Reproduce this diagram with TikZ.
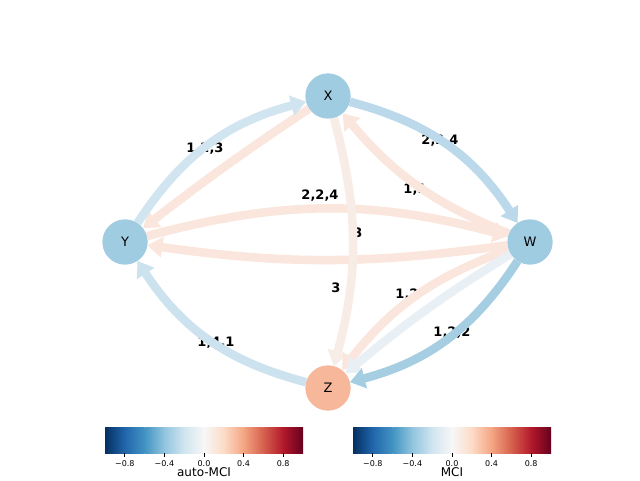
\documentclass[tikz,border=0pt]{standalone}
\usepackage{fontspec}
\setmainfont{DejaVu Sans}
\usetikzlibrary{arrows.meta}
\definecolor{nblue}{RGB}{160,204,226}
\definecolor{norange}{RGB}{246,183,154}
\definecolor{eyx}{RGB}{209,229,240}
\definecolor{exw}{RGB}{187,217,234}
\definecolor{ezy}{RGB}{204,226,239}
\definecolor{ewz}{RGB}{166,206,227}
\definecolor{ewzp}{RGB}{232,240,245}
\definecolor{eor}{RGB}{250,230,220}
\definecolor{eor2}{RGB}{248,236,230}
\definecolor{c0}{RGB}{5,48,97}
\definecolor{c1}{RGB}{33,102,172}
\definecolor{c2}{RGB}{67,147,195}
\definecolor{c3}{RGB}{146,197,222}
\definecolor{c4}{RGB}{209,229,240}
\definecolor{c5}{RGB}{247,247,247}
\definecolor{c6}{RGB}{253,219,199}
\definecolor{c7}{RGB}{244,165,130}
\definecolor{c8}{RGB}{214,96,77}
\definecolor{c9}{RGB}{178,24,43}
\definecolor{c10}{RGB}{103,0,31}
\tikzset{
  vnode/.style={circle,minimum size=45pt,inner sep=0pt,font=\fontsize{13}{15}\selectfont},
  edge/.style={line width=8.5pt,-{Triangle[width=20pt,length=15pt]}},
  elabel/.style={font=\fontsize{13}{15}\selectfont\bfseries,inner sep=0pt},
  ticklab/.style={font=\fontsize{8}{9}\selectfont,anchor=north,inner sep=0pt},
  cbtitle/.style={font=\fontsize{12}{14}\selectfont,anchor=north,inner sep=0pt}
}
\begin{document}
\begin{tikzpicture}[x=1pt,y=1pt]
\useasboundingbox (0,0) rectangle (640,480);
\fill[white] (0,0) rectangle (640,480);
% nodes
\node[vnode,fill=nblue] (X) at (328,384) {X};
\node[vnode,fill=nblue] (Y) at (125,238) {Y};
\node[vnode,fill=nblue] (W) at (530,238) {W};
\node[vnode,fill=norange] (Z) at (328,92) {Z};
% labels (under edges)
\node[elabel] (l1) at (205,331) {1,2,3};
\node[elabel] (l2) at (440,339) {2,2,4};
\node[elabel] (l3) at (320,284) {2,2,4};
\node[elabel] (l4) at (415,290) {1,1};
\node[elabel] (l5) at (358,247) {3};
\node[elabel] (l6) at (336,192) {3};
\node[elabel] (l7) at (407,185) {1,2};
\node[elabel] (l8) at (216,137) {1,4,1};
\node[elabel] (l9) at (452,147) {1,2,2};
% edges
\draw[edge,color=eor] (X) to[bend right=2] (Y);
\draw[edge,color=eor] (Y) to[bend left=15] (W);
\draw[edge,color=eor] (W) to[bend left=8] (Y);
\draw[edge,color=eor] (W) to[bend left=14] (X);
\draw[edge,color=eor2] (X) to[bend left=15] (Z);
\draw[edge,color=eor] (W) to[bend right=16] (Z);
\draw[edge,color=ewzp] (W) to[bend right=4] (Z);
\draw[edge,color=eyx] (Y) to[bend left=21] (X);
\draw[edge,color=exw] (X) to[bend left=21] (W);
\draw[edge,color=ewz] (W) to[bend left=21] (Z);
\draw[edge,color=ezy] (Z) to[bend left=21] (Y);
% nodes on top
\node[vnode,fill=nblue] at (X) {X};
\node[vnode,fill=nblue] at (Y) {Y};
\node[vnode,fill=nblue] at (W) {W};
\node[vnode,fill=norange] at (Z) {Z};
% colorbars
\foreach \x/\t in {105/auto-MCI,353/MCI}{
  \foreach \i [evaluate=\i as \j using int(\i+1)] in {0,...,9}{
    \shade[left color=c\i,right color=c\j,shading=axis] ({\x+\i*19.8},27) rectangle ({\x+\i*19.8+19.9},53);
  }
  \foreach \v/\s in {-0.8/{−0.8},-0.4/{−0.4},0/{0.0},0.4/{0.4},0.8/{0.8}}{
    \draw[line width=0.7pt] ({\x+99+\v*99},27) -- ({\x+99+\v*99},23.5);
    \node[ticklab] at ({\x+99+\v*99},20) {\s};
  }
  \node[cbtitle] at ({\x+99},12.5) {\t};
}
\end{tikzpicture}
\end{document}
